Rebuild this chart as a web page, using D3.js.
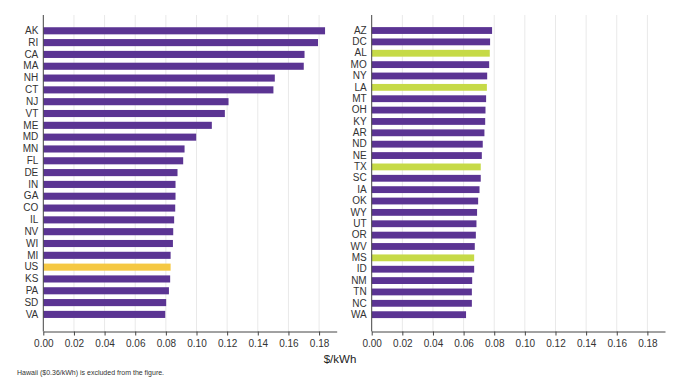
<!DOCTYPE html>
<html>
<head>
<meta charset="utf-8">
<script src="https://cdn.jsdelivr.net/npm/d3@7"></script>
<style>
  body { margin: 0; background: #fff; }
  svg { font-family: "Liberation Sans", Arial, sans-serif; }
  .grid line { stroke: #e9e9e9; }
  .axis path, .axis line { stroke: #444; }
  .axis text { fill: #333; font-size: 10px; }
</style>
</head>
<body>
<svg id="chart" width="680" height="384"></svg>
<script>
// --- data ---
const leftStates = ["AK", "RI", "CA", "MA", "NH", "CT", "NJ", "VT", "ME", "MD", "MN", "FL", "DE",
  "IN", "GA", "CO", "IL", "NV", "WI", "MI", "US", "KS", "PA", "SD", "VA"];
const leftValues = [0.1839, 0.1793, 0.1705, 0.1700, 0.1511, 0.1502, 0.1209, 0.1185, 0.1100, 0.0998,
  0.0922, 0.0913, 0.0876, 0.0863, 0.0863, 0.0861, 0.0854, 0.0848, 0.0846, 0.0831, 0.0831, 0.0828,
  0.0820, 0.0802, 0.0796];

const rightStates = ["AZ", "DC", "AL", "MO", "NY", "LA", "MT", "OH", "KY", "AR", "ND", "NE", "TX",
  "SC", "IA", "OK", "WY", "UT", "OR", "WV", "MS", "ID", "NM", "TN", "NC", "WA"];
const rightValues = [0.0786, 0.0773, 0.0771, 0.0767, 0.0754, 0.0752, 0.0747, 0.0743, 0.0741, 0.0736,
  0.0725, 0.0719, 0.0712, 0.0712, 0.0704, 0.0695, 0.0688, 0.0684, 0.0680, 0.0673, 0.0669, 0.0669,
  0.0656, 0.0654, 0.0654, 0.0616];

const usGroup = ["US"];
const greenGroup = ["AL", "LA", "TX", "MS"];

const xTicks = [0, 0.02, 0.04, 0.06, 0.08, 0.10, 0.12, 0.14, 0.16, 0.18];
const xLabel = "$/kWh";
const footnote = "Hawaii ($0.36/kWh) is excluded from the figure.";

// --- draw ---
const svg = d3.select("#chart");
const plotTop = 15, axisY = 331.5;

function color(s) {
  if (usGroup.includes(s)) return "#f5c843";
  if (greenGroup.includes(s)) return "#c6da47";
  return "#5b3493";
}

function panel(states, values, x0, x1) {
  const x = d3.scaleLinear().domain([0, 0.1915]).range([x0, x1]);
  const y = d3.scaleBand().domain(states).range([23.7, 321.5])
    .paddingInner(0.4).paddingOuter(0.3);

  const g = svg.append("g");

  g.append("g").attr("class", "grid")
    .selectAll("line").data(xTicks.slice(1)).join("line")
    .attr("x1", d => x(d)).attr("x2", d => x(d))
    .attr("y1", plotTop).attr("y2", axisY);

  g.selectAll("rect.bar").data(states).join("rect")
    .attr("class", "bar")
    .attr("x", x(0))
    .attr("y", d => y(d))
    .attr("width", (d, i) => x(values[i]) - x(0))
    .attr("height", y.bandwidth())
    .attr("fill", d => color(d));

  g.append("g").attr("class", "axis")
    .attr("transform", `translate(0,${axisY})`)
    .call(d3.axisBottom(x).tickValues(xTicks).tickFormat(d3.format(".2f"))
      .tickSize(4).tickSizeOuter(0).tickPadding(4.5));

  g.append("g").attr("class", "axis")
    .attr("transform", `translate(${x(0)},0)`)
    .call(d3.axisLeft(y).tickSize(0).tickPadding(5))
    .call(a => a.select(".domain").attr("d", `M0,${plotTop}V${axisY}`))
    .call(a => a.selectAll("text").attr("fill", "#222"));
}

panel(leftStates, leftValues, 43.3, 336.7);
panel(rightStates, rightValues, 371.7, 665);

svg.append("text")
  .attr("x", 340).attr("y", 363)
  .attr("text-anchor", "middle")
  .attr("font-size", 11.5).attr("fill", "#222")
  .text(xLabel);

svg.append("text")
  .attr("x", 17).attr("y", 375)
  .attr("font-size", 7).attr("fill", "#333")
  .text(footnote);
</script>
</body>
</html>
